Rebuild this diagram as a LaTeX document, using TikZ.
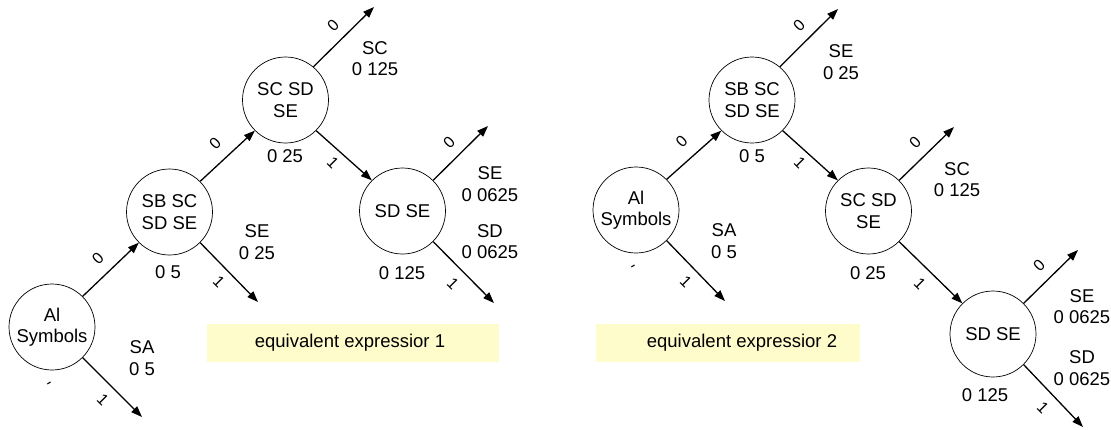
\documentclass[tikz,border=0pt]{standalone}
\usepackage{fontspec}
\setmainfont{Liberation Sans}
\usetikzlibrary{arrows.meta}
\begin{document}
\begin{tikzpicture}[x=1pt,y=-1pt,
  every node/.style={font=\fontsize{18.5}{21.5}\selectfont, inner sep=0pt},
  state/.style={draw, circle, minimum size=86pt, align=center, line width=0.7pt},
  arr/.style={line width=1.3pt, -{Triangle[length=11pt,width=8pt]}},
  prob/.style={align=center},
  bit/.style={font=\fontsize{16}{16}\selectfont},
  zero/.style={bit, rotate=45},
  one/.style={bit, rotate=-45},
  note/.style={fill=yellow!20, minimum width=#1, minimum height=38pt}
]
\useasboundingbox (0,0) rectangle (1111,429);

% ---------- first tree ----------
\node[state] (a1) at (52,327) {Al\\Symbols};
\node[state] (b1) at (169.5,212) {SB SC\\SD SE};
\node[state] (c1) at (285.5,100) {SC SD\\SE};
\node[state] (d1) at (402.5,211) {SD SE};

\coordinate (a1e) at (142,417);
\coordinate (b1e) at (258,302);
\coordinate (c1e) at (374,7);
\coordinate (d1u) at (488,126);
\coordinate (d1e) at (494,303);

\draw[arr] (a1.45) -- (b1.225);
\draw[arr] (a1.-45) -- (a1e);
\draw[arr] (b1.45) -- (c1.225);
\draw[arr] (b1.-45) -- (b1e);
\draw[arr] (c1.50) -- (c1e);
\draw[arr] (c1.-45) -- (d1.135);
\draw[arr] (d1.45) -- (d1u);
\draw[arr] (d1.-45) -- (d1e);

\node[zero] (l1) at (98,258) {0};
\node[one]  (l2) at (103,400) {1};
\node[bit, rotate=30] (l3) at (50,385) {-};
\node[prob] (p1) at (142,358) {SA\\0 5};
\node (p2) at (168,272) {0 5};
\node[prob] (p3) at (257,242) {SE\\0 25};
\node[one]  (l4) at (219,282) {1};
\node[zero] (l5) at (215,143) {0};
\node (p4) at (285,156) {0 25};
\node[zero] (l6) at (333,25) {0};
\node[prob] (p5) at (375,58.5) {SC\\0 125};
\node[one]  (l7) at (333,163) {1};
\node[zero] (l8) at (449,142) {0};
\node[prob] (p6) at (490,184) {SE\\0 0625};
\node[prob] (p7) at (490,241.5) {SD\\0 0625};
\node (p8) at (402,273) {0 125};
\node[one]  (l9) at (453,284) {1};

\node[note=292pt] (box1) at (353,343) {};
\node (t1) at (350,343) {equivalent expressior 1};

% ---------- second tree ----------
\node[state] (a2) at (636,210) {Al\\Symbols};
\node[state] (b2) at (752,100) {SB SC\\SD SE};
\node[state] (c2) at (868.5,211) {SC SD\\SE};
\node[state] (d2) at (993,334) {SD SE};

\coordinate (a2e) at (725,301);
\coordinate (b2e) at (838,9);
\coordinate (c2u) at (954,127);
\coordinate (d2u) at (1078,250);
\coordinate (d2e) at (1083,427);

\draw[arr] (a2.45) -- (b2.225);
\draw[arr] (a2.-45) -- (a2e);
\draw[arr] (b2.50) -- (b2e);
\draw[arr] (b2.-45) -- (c2.135);
\draw[arr] (c2.45) -- (c2u);
\draw[arr] (c2.-45) -- (d2.135);
\draw[arr] (d2.45) -- (d2u);
\draw[arr] (d2.-45) -- (d2e);

\node[zero] (m1) at (681.5,141) {0};
\node[bit, rotate=30] (m2) at (634,268) {-};
\node[one]  (m3) at (686,282) {1};
\node[prob] (q1) at (724,241) {SA\\0 5};
\node (q2) at (752,156) {0 5};
\node[zero] (m4) at (799,25) {0};
\node[prob] (q3) at (841,62) {SE\\0 25};
\node[one]  (m5) at (800,163) {1};
\node[zero] (m6) at (915,142) {0};
\node[prob] (q4) at (957,179.5) {SC\\0 125};
\node (q5) at (868,273) {0 25};
\node[one]  (m7) at (920,284) {1};
\node[zero] (m8) at (1039,265) {0};
\node[prob] (q6) at (1082,306.5) {SE\\0 0625};
\node[prob] (q7) at (1082,368) {SD\\0 0625};
\node (q8) at (985,395) {0 125};
\node[one]  (m9) at (1043,408) {1};

\node[note=264pt] (box2) at (728,343) {};
\node (t2) at (742,343) {equivalent expressior 2};
\end{tikzpicture}
\end{document}
